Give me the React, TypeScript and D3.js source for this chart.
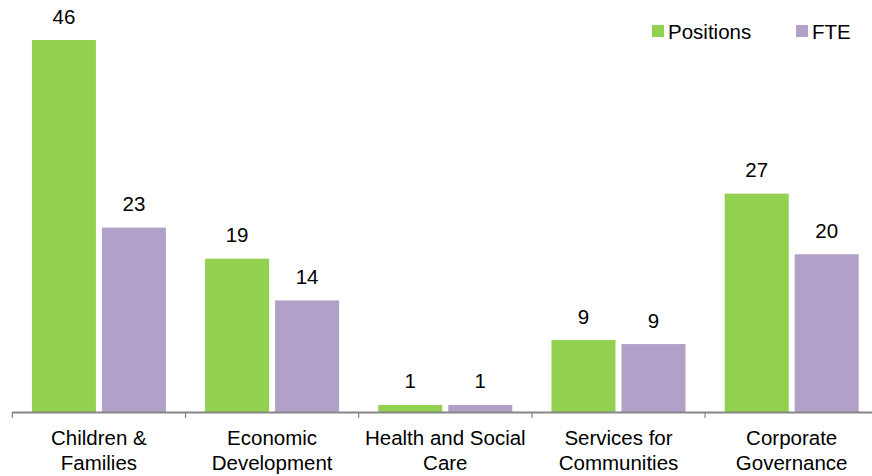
import React from "react";
import * as d3 from "d3";

const categories: string[][] = [
  ["Children &", "Families"],
  ["Economic", "Development"],
  ["Health and Social", "Care"],
  ["Services for", "Communities"],
  ["Corporate", "Governance"],
];
const seriesNames = ["Positions", "FTE"];
const positions = [46, 18.96, 0.87, 8.9, 27.0];
const fte = [22.8, 13.8, 0.87, 8.4, 19.5];
const positionLabels = ["46", "19", "1", "9", "27"];
const fteLabels = ["23", "14", "1", "9", "20"];
const colors = ["#92D050", "#B1A0C7"];

const W = 872;
const H = 476;
const FONT = "'Liberation Sans', Arial, sans-serif";
const FS = 20.5;

export default function App() {
  const baseline = 412;
  const left = 12.3;
  const catW = 173.2;
  const keys = categories.map((_, i) => String(i));
  const x = d3
    .scaleBand<string>()
    .domain(keys)
    .range([left, left + catW * categories.length])
    .padding(0);
  const inner = d3
    .scaleBand<string>()
    .domain(seriesNames)
    .range([19.6, catW - 19.6])
    .paddingInner(6 / 70)
    .paddingOuter(0);
  const y = d3.scaleLinear().domain([0, 46]).range([baseline, 40]);

  const series = [
    { name: seriesNames[0], values: positions, labels: positionLabels, color: colors[0] },
    { name: seriesNames[1], values: fte, labels: fteLabels, color: colors[1] },
  ];

  const tickXs = d3.range(categories.length + 1).map((i) =>
    i < categories.length ? (x(keys[i]) as number) : left + catW * categories.length
  );

  return (
    <svg
      width={W}
      height={H}
      style={{ position: "absolute", left: 0, top: 0, background: "#fff" }}
      fontFamily={FONT}
    >
      <rect x={0} y={0} width={W} height={H} fill="#fff" />
      {series.map((s) =>
        s.values.map((v, i) => {
          const bx = (x(keys[i]) as number) + (inner(s.name) as number);
          const bw = inner.bandwidth();
          const top = y(v);
          return (
            <g key={s.name + i}>
              <rect x={bx} y={top} width={bw} height={baseline - top} fill={s.color} />
              <text
                x={bx + bw / 2}
                y={top - 16.5}
                textAnchor="middle"
                fontSize={FS}
                fill="#000"
              >
                {s.labels[i]}
              </text>
            </g>
          );
        })
      )}
      <line x1={left} x2={W} y1={baseline + 0.5} y2={baseline + 0.5} stroke="#868686" strokeWidth={2} />
      {tickXs.map((tx, i) => (
        <line
          key={"t" + i}
          x1={tx}
          x2={tx}
          y1={baseline}
          y2={baseline + 6}
          stroke="#868686"
          strokeWidth={1.2}
        />
      ))}
      {categories.map((lines, i) => {
        const cx = (x(keys[i]) as number) + x.bandwidth() / 2;
        return (
          <text key={"c" + i} textAnchor="middle" fontSize={FS} fill="#000">
            {lines.map((ln, j) => (
              <tspan key={j} x={cx} y={445 + j * 25}>
                {ln}
              </tspan>
            ))}
          </text>
        );
      })}
      {series.map((s, i) => {
        const lx = i === 0 ? 652 : 796;
        return (
          <g key={"l" + i}>
            <rect x={lx} y={25} width={12} height={12} fill={s.color} />
            <text x={lx + 16} y={39} fontSize={FS} fill="#000">
              {s.name}
            </text>
          </g>
        );
      })}
    </svg>
  );
}
